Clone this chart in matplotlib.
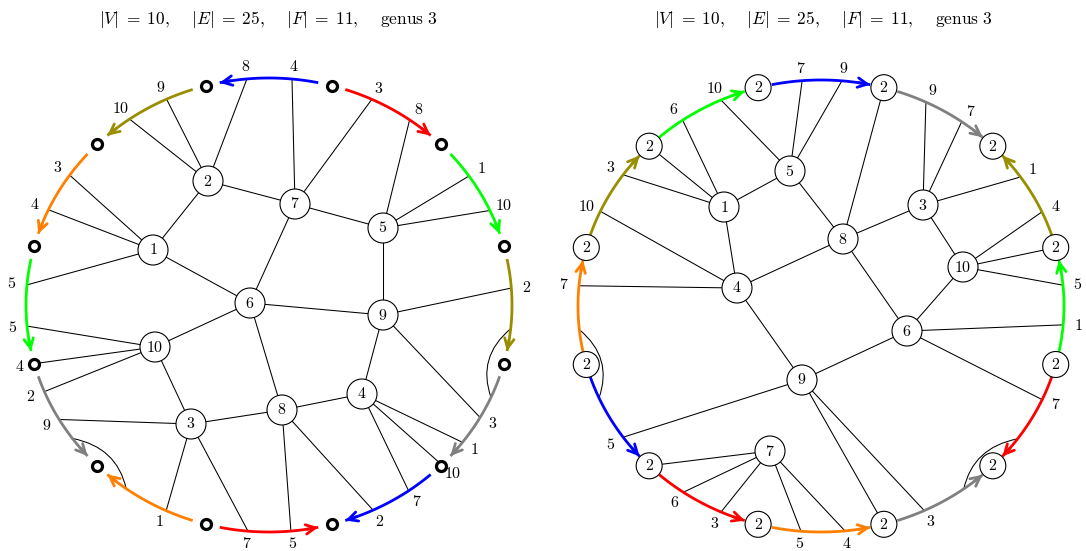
import numpy as np
import matplotlib.pyplot as plt
from matplotlib.patches import Circle, PathPatch
from matplotlib.path import Path

plt.rcParams['mathtext.fontset'] = 'cm'

# counts shown in both titles
n_vertices, n_edges, n_faces, genus = 10, 25, 11, 3

# 12-gon fundamental polygon, corner k sits at angle -105 + 30*k
n_sides = 12

# ---------------- left drawing ----------------
left_ids = [1, 2, 3, 4, 5, 6, 7, 8, 9, 10]
left_x = [153, 208, 191, 362, 383, 250, 295, 282, 383, 155]
left_y = [250, 181, 424, 394, 228, 303, 204, 410, 315, 347]

left_edges = [(1, 2), (2, 7), (7, 5), (7, 6), (1, 6), (6, 9), (5, 9),
              (6, 10), (6, 8), (10, 3), (3, 8), (8, 4), (4, 9)]

# edges leaving through the boundary: node, point on boundary, label
left_stub_node = [2, 2, 2, 7, 7, 5, 5, 5, 9, 1, 1, 1,
                  10, 10, 10, 3, 3, 3, 8, 8, 4, 4, 4, 9]
left_stub_x = [247, 167, 131, 292, 371, 408, 469, 491, 512, 71, 49, 28,
               28, 33, 46, 60, 167, 248, 291, 372, 408, 442, 462, 481]
left_stub_y = [80, 100, 121, 79, 101, 122, 176, 210, 288, 176, 210, 285,
               326, 364, 391, 419, 509, 531, 532, 508, 490, 465, 442, 418]
left_stub_label = ['8', '9', '10', '4', '3', '8', '1', '10', '2', '3', '4', '5',
                   '5', '4', '2', '9', '1', '7', '5', '2', '7', '10', '1', '3']

left_side_from = [1, 1, 2, 3, 4, 5, 7, 7, 9, 10, 11, 0]
left_side_to = [0, 2, 3, 4, 5, 6, 6, 8, 8, 9, 10, 11]
left_side_color = ['#0000ff', '#ff0000', '#00ff00', '#998d00', '#808080', '#0000ff',
                   '#ff0000', '#ff8000', '#808080', '#00ff00', '#ff8000', '#998d00']
left_loops = [4, 8]

# ---------------- right drawing ----------------
right_ids = [1, 3, 4, 5, 6, 7, 8, 9, 10]
right_x = [724, 923, 737, 790, 907, 770, 843, 802, 963]
right_y = [207, 205, 288, 171, 331, 451, 239, 380, 267]

right_edges = [(1, 5), (1, 4), (5, 8), (4, 8), (4, 9), (8, 3), (8, 6),
               (3, 10), (10, 6), (6, 9)]
# edges to the boundary vertex 2 (node, corner index)
right_corner_edges = [(1, 11), (8, 1), (10, 3), (9, 6), (7, 8)]

right_stub_node = [1, 1, 5, 5, 5, 4, 4, 3, 3, 3, 10, 10, 6, 6, 9, 9, 7, 7, 7, 7]
right_stub_x = [684, 625, 721, 802, 842, 602, 582, 927, 963, 1022, 1044, 1065,
                1065, 1043, 625, 925, 685, 722, 801, 845]
right_stub_y = [122, 176, 100, 79, 80, 212, 286, 100, 120, 176, 211, 285,
                325, 400, 436, 512, 490, 510, 531, 531]
right_stub_label = ['6', '3', '10', '7', '9', '10', '7', '9', '7', '1', '4', '5',
                    '1', '7', '5', '3', '6', '3', '5', '4']

right_side_from = [0, 1, 3, 4, 4, 6, 7, 8, 9, 9, 10, 11]
right_side_to = [1, 2, 2, 3, 5, 5, 6, 7, 8, 10, 11, 0]
right_side_color = ['#0000ff', '#808080', '#998d00', '#00ff00', '#ff0000', '#808080',
                    '#ff8000', '#ff0000', '#0000ff', '#ff8000', '#998d00', '#00ff00']
right_loops = [5, 9]
right_corner_label = '2'


fig = plt.figure(figsize=(10.86, 5.51), dpi=100)
ax = fig.add_axes([0, 0, 1, 1])
ax.set_xlim(0, 1086)
ax.set_ylim(551, 0)
ax.axis('off')


def on_ellipse(c, r, deg):
    t = np.radians(deg)
    return c[0] + r[0] * np.cos(t), c[1] + r[1] * np.sin(t)


def angle_of(c, r, x, y):
    return np.degrees(np.arctan2((y - c[1]) / r[1], (x - c[0]) / r[0]))


def draw_panel(c, r, ids, xs, ys, edges, stub_node, stub_x, stub_y, stub_label,
               side_from, side_to, side_color, loops, corner_nodes, title_x):
    pos = {i: (x, y) for i, x, y in zip(ids, xs, ys)}
    corner_ang = [-105 + 360 / n_sides * k for k in range(n_sides)]
    corners = [on_ellipse(c, r, a) for a in corner_ang]

    for a, b in edges:
        ax.plot([pos[a][0], pos[b][0]], [pos[a][1], pos[b][1]], color='black', lw=0.75, zorder=1)

    for n, x, y, lab in zip(stub_node, stub_x, stub_y, stub_label):
        a = angle_of(c, r, x, y)
        px, py = on_ellipse(c, r, a)
        ax.plot([pos[n][0], px], [pos[n][1], py], color='black', lw=0.75, zorder=1)
        lx, ly = on_ellipse(c, (r[0] + 15, r[1] + 12.5), a)
        ax.text(lx, ly, '$%s$' % lab, ha='center', va='center', fontsize=11.5, zorder=5)

    for k in loops:
        p0 = on_ellipse(c, r, corner_ang[k] - 9)
        p1 = on_ellipse(c, (r[0] * 0.885, r[1] * 0.885), corner_ang[k])
        p2 = on_ellipse(c, r, corner_ang[k] + 9)
        ax.add_patch(PathPatch(Path([p0, p1, p2], [Path.MOVETO, Path.CURVE3, Path.CURVE3]),
                               fc='none', ec='black', lw=0.75, zorder=1))

    gap = 3.3
    for f, t, col in zip(side_from, side_to, side_color):
        a0, a1 = corner_ang[f], corner_ang[t]
        d = (a1 - a0 + 180) % 360 - 180
        s = np.sign(d)
        ts = np.linspace(a0 + s * gap, a0 + d - s * gap, 60)
        px, py = on_ellipse(c, r, ts)
        ax.plot(px, py, color=col, lw=2.0, solid_capstyle='butt', zorder=2)
        ax.annotate('', xy=(px[-1], py[-1]), xytext=(px[-8], py[-8]),
                    arrowprops=dict(arrowstyle='->', color=col, lw=2.0,
                                    mutation_scale=17, shrinkA=0, shrinkB=0), zorder=3)

    for i in ids:
        ax.add_patch(Circle(pos[i], 15, fc='white', ec='black', lw=0.8, zorder=4))
        ax.text(pos[i][0], pos[i][1], '$%d$' % i, ha='center', va='center', fontsize=11.5, zorder=5)

    if corner_nodes is None:
        cx, cy = zip(*corners)
        ax.plot(cx, cy, 'o', ms=7.2, mfc='white', mec='black', mew=2.3, ls='none', zorder=4)
    else:
        edges_to_corner, lab = corner_nodes
        for n, k in edges_to_corner:
            ax.plot([pos[n][0], corners[k][0]], [pos[n][1], corners[k][1]],
                    color='black', lw=0.75, zorder=1)
        for p in corners:
            ax.add_patch(Circle(p, 13, fc='white', ec='black', lw=0.8, zorder=4))
            ax.text(p[0], p[1], '$%s$' % lab, ha='center', va='center', fontsize=11.5, zorder=5)

    title = (r'$|V|\;=\;%d,$' + r'$\quad\;$' + r'$|E|\;=\;%d,$' + r'$\quad\;$'
             + r'$|F|\;=\;%d,$' + r'$\quad\;$' + r'$\mathrm{genus}\ %d$') % (
        n_vertices, n_edges, n_faces, genus)
    ax.text(title_x, 19, title, ha='center', va='center', fontsize=12.5)


draw_panel((269, 305), (243, 227), left_ids, left_x, left_y, left_edges,
           left_stub_node, left_stub_x, left_stub_y, left_stub_label,
           left_side_from, left_side_to, left_side_color, left_loops, None, 268)

draw_panel((821, 306), (243, 226), right_ids, right_x, right_y, right_edges,
           right_stub_node, right_stub_x, right_stub_y, right_stub_label,
           right_side_from, right_side_to, right_side_color, right_loops,
           (right_corner_edges, right_corner_label), 823)

fig.savefig('out.png', dpi=100)
